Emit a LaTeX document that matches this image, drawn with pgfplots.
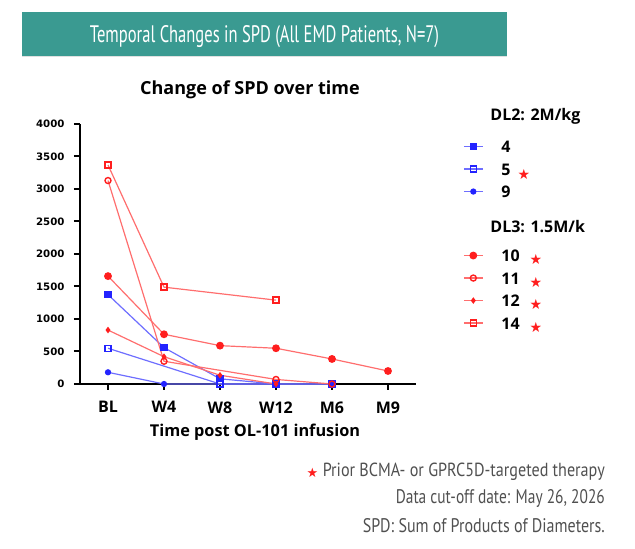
\documentclass[border=0pt]{standalone}
\usepackage{pgfplots}
\pgfplotsset{compat=1.18}
\usepackage{fontspec}
\setmainfont{Open Sans}
\newfontfamily\dejavu{DejaVu Sans}
\newfontfamily\ptsans{PT Sans}
\definecolor{teal2}{RGB}{58,154,145}
\definecolor{rline}{RGB}{255,110,110}
\definecolor{rmark}{RGB}{255,30,30}
\definecolor{bline}{RGB}{110,110,255}
\definecolor{bmark}{RGB}{35,35,255}
\definecolor{ftgray}{RGB}{80,80,80}
\newcommand{\fs}[1]{\fontsize{#1}{#1}\selectfont}
\newcommand{\rstar}{{\dejavu\fs{14}\textcolor{rmark}{★}}}
\newcommand{\es}{\rule{0pt}{14.4pt}}
\begin{document}
\begin{tikzpicture}[x=1pt,y=1pt]
\useasboundingbox (0,0) rectangle (635,549);
% banner
\fill[black!12] (22,491.5) rectangle (507,493);
\fill[teal2] (22,493) rectangle (507,537);
\node[text=white,inner sep=0pt,anchor=base] at (264.5,506.5) {\resizebox{349pt}{17pt}{\ptsans Temporal Changes in SPD (All EMD Patients, N=7)}};
% title and x label
\node[font=\bfseries\fs{18}] at (250,459) {Change of SPD over time};
\node[font=\bfseries\fs{16.3}] at (255,117) {Time post OL-101 infusion};
% footnotes
\node[anchor=base east,inner sep=0pt,text=ftgray] at (605,72) {\resizebox{282pt}{13.5pt}{\ptsans Prior BCMA- or GPRC5D-targeted therapy}};
\node[inner sep=0pt] at (312.5,76) {{\dejavu\fs{13}\textcolor{rmark}{★}}};
\node[anchor=base east,inner sep=0pt,text=ftgray] at (605,45) {\resizebox{209pt}{14pt}{\ptsans Data cut-off date: May 26, 2026}};
\node[anchor=base east,inner sep=0pt,text=ftgray] at (605,16) {\resizebox{242pt}{14pt}{\ptsans SPD: Sum of Products of Diameters.}};
\begin{axis}[
  at={(80pt,165pt)}, anchor=south west, scale only axis,
  width=336pt, height=260pt,
  xmin=-0.5, xmax=5.5, ymin=0, ymax=4000,
  axis x line*=bottom, axis y line*=left,
  axis line style={line width=2.4pt, black, -},
  xtick={0,1,2,3,4,5}, xticklabels={BL,W4,W8,W12,M6,M9},
  ytick={0,500,1000,1500,2000,2500,3000,3500,4000},
  tick align=outside, major tick length=6pt,
  tick style={line width=2pt, black},
  yticklabel style={font=\dejavu\bfseries\fs{10.2}, xshift=-6pt, /pgf/number format/1000 sep={}},
  xticklabel style={font=\bfseries\fs{16}, yshift=-8pt},
  /pgf/number format/assume math mode=true,
  scaled y ticks=false,
  clip=false,
  legend style={at={(axis description cs:1.131,1.07)}, anchor=north west,
     draw=none, fill=none, font=\bfseries\fs{16}, row sep=6.6pt, column sep=0pt,
     nodes={inner sep=0pt}},
  legend cell align=left,
  legend image code/.code={\draw[mark repeat=2,mark phase=2] plot coordinates {(0pt,0pt) (9.5pt,0pt) (19pt,0pt)};},
  every axis plot/.append style={line width=1.2pt},
]
\addlegendimage{empty legend}
\addlegendentry{\hspace{7pt}\raisebox{9.5pt}{DL2: 2M/kg\rule{0pt}{13pt}}}
\addplot[bline, mark=square*, mark size=3, mark options={solid, fill=bmark, draw=bmark}]
  coordinates {(0,1375) (1,560) (2,80) (3,0) (4,0)};
\addlegendentry{\hspace{18pt}4\es}
\addplot[bline, mark=square, mark size=3, mark options={solid, draw=bmark, line width=1.4pt}]
  coordinates {(0,550) (2,0) (3,0)};
\addlegendentry{\hspace{18pt}5\hspace{7pt}\raisebox{-4pt}{\rstar}\es}
\addplot[bline, mark=*, mark size=2.5, mark options={solid, fill=bmark, draw=bmark}]
  coordinates {(0,180) (1,0) (3,0) (4,0)};
\addlegendentry{\hspace{18pt}9\es}
\addlegendimage{empty legend}
\addlegendentry{\hspace{7pt}\raisebox{7pt}{DL3: 1.5M/k\rule{0pt}{26.4pt}}}
\addplot[rline, mark=*, mark size=3.3, mark options={solid, fill=rmark, draw=rmark}]
  coordinates {(0,1660) (1,765) (2,590) (3,550) (4,385) (5,200)};
\addlegendentry{\hspace{18pt}10\hspace{10pt}\raisebox{-3pt}{\rstar}\es}
\addplot[rline, mark=o, mark size=3, mark options={solid, draw=rmark, line width=1.4pt}]
  coordinates {(0,3130) (1,350) (3,70) (4,0)};
\addlegendentry{\hspace{18pt}11\hspace{10pt}\raisebox{-3pt}{\rstar}\es}
\addplot[rline, mark=diamond*, mark size=2.3, mark options={solid, fill=rmark, draw=rmark}]
  coordinates {(0,830) (1,420) (2,135) (3,0)};
\addlegendentry{\hspace{18pt}12\hspace{10pt}\raisebox{-3pt}{\rstar}\es}
\addplot[rline, mark=square, mark size=3, mark options={solid, draw=rmark, line width=1.4pt}]
  coordinates {(0,3370) (1,1490) (3,1290)};
\addlegendentry{\hspace{18pt}14\hspace{10pt}\raisebox{-3pt}{\rstar}\es}
\end{axis}
\end{tikzpicture}
\end{document}
